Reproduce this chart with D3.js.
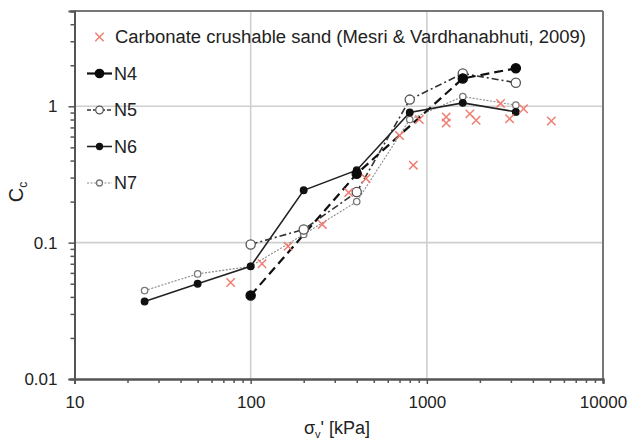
<!DOCTYPE html>
<html><head><meta charset="utf-8">
<script src="https://cdn.jsdelivr.net/npm/d3@7"></script>
<style>
html,body{margin:0;padding:0;background:#fff;}
text{font-family:"Liberation Sans",Arial,sans-serif;fill:#222;}
</style></head>
<body><svg id="c" width="631" height="439"></svg>
<script>
// ---- data ----
const xTicks = [10, 100, 1000, 10000];
const yTicks = [0.01, 0.1, 1];
const xTickLabels = ["10", "100", "1000", "10000"];
const yTickLabels = ["0.01", "0.1", "1"];

const n4X = [100, 400, 1600, 3200];
const n4Y = [0.041, 0.32, 1.6, 1.9];
const n5X = [100, 200, 400, 800, 1600, 3200];
const n5Y = [0.097, 0.125, 0.235, 1.12, 1.74, 1.49];
const n6X = [25, 50, 100, 200, 400, 800, 1600, 3200];
const n6Y = [0.037, 0.050, 0.067, 0.242, 0.34, 0.90, 1.06, 0.91];
const n7X = [25, 50, 100, 200, 400, 800, 1600, 3200];
const n7Y = [0.0445, 0.059, 0.067, 0.115, 0.20, 0.80, 1.18, 1.02];
const mesriX = [77, 116, 163, 255, 360, 452, 700, 838, 906, 1288, 1288, 1755, 1904, 2620, 2950, 3540, 5090];
const mesriY = [0.051, 0.070, 0.094, 0.136, 0.233, 0.295, 0.61, 0.37, 0.80, 0.835, 0.754, 0.88, 0.79, 1.05, 0.81, 0.96, 0.78];
const legendLabels = ["Carbonate crushable sand (Mesri & Vardhanabhuti, 2009)", "N4", "N5", "N6", "N7"];

// ---- layout ----
const L = 74.5, R = 603, T = 11, B = 379;
const svg = d3.select("#c");
const x = d3.scaleLog().domain([10, 10000]).range([L, R]);
const y = d3.scaleLog().domain([0.01, 5]).range([B, T]);

// grid
const g = svg.append("g");
g.selectAll(".gx").data([100, 1000]).enter().append("line")
  .attr("x1", d => x(d)).attr("x2", d => x(d)).attr("y1", T).attr("y2", B)
  .attr("stroke", "#cfcfcf").attr("stroke-width", 1.6);
g.selectAll(".gy").data([0.1, 1]).enter().append("line")
  .attr("y1", d => y(d)).attr("y2", d => y(d)).attr("x1", L).attr("x2", R)
  .attr("stroke", "#cfcfcf").attr("stroke-width", 1.6);

// frame top/right
svg.append("line").attr("x1", L).attr("x2", R).attr("y1", T).attr("y2", T).attr("stroke", "#777").attr("stroke-width", 2);
svg.append("line").attr("x1", R).attr("x2", R).attr("y1", T).attr("y2", B).attr("stroke", "#777").attr("stroke-width", 2);

// axes
const minorX = [];
[10, 100, 1000].forEach(d => { for (let k = 2; k <= 9; k++) minorX.push(d * k); });
const minorY = [];
[0.01, 0.1, 1].forEach(d => { for (let k = 2; k <= 9; k++) if (d * k <= 5) minorY.push(d * k); });

const xAxis = svg.append("g").attr("transform", `translate(0,${B})`)
  .call(d3.axisBottom(x).tickValues(xTicks).tickFormat((d, i) => xTickLabels[i]).tickSize(5).tickPadding(6));
const xMinor = svg.append("g").attr("transform", `translate(0,${B})`)
  .call(d3.axisBottom(x).tickValues(minorX).tickFormat("").tickSize(4));
const yAxis = svg.append("g").attr("transform", `translate(${L},0)`)
  .call(d3.axisLeft(y).tickValues(yTicks).tickFormat((d, i) => yTickLabels[i]).tickSize(6).tickPadding(11));
const yMinor = svg.append("g").attr("transform", `translate(${L},0)`)
  .call(d3.axisLeft(y).tickValues(minorY).tickFormat("").tickSize(4));
[xAxis, xMinor, yAxis, yMinor].forEach(a => {
  a.select(".domain").attr("stroke", "#555").attr("stroke-width", 2);
  a.selectAll(".tick line").attr("stroke", "#555").attr("stroke-width", 1.5);
  a.selectAll("text").style("font-size", "17px").attr("fill", "#222");
});
xAxis.selectAll("text").attr("dy", "1.05em");

// series
const line = d3.line().x(d => x(d[0])).y(d => y(d[1]));
const zip = (a, b) => a.map((v, i) => [v, b[i]]);

const series = [
  { key: "N7", data: zip(n7X, n7Y), stroke: "#8a8a8a", sw: 1.1, dash: "2,1.5", r: 3.2, fill: "#fff", mstroke: "#777" },
  { key: "N6", data: zip(n6X, n6Y), stroke: "#222", sw: 1.6, dash: null, r: 3.3, fill: "#111", mstroke: "#111" },
  { key: "N5", data: zip(n5X, n5Y), stroke: "#333", sw: 1.6, dash: "7,3,2,3", r: 4.6, fill: "#fff", mstroke: "#555" },
  { key: "N4", data: zip(n4X, n4Y), stroke: "#111", sw: 2.2, dash: "9,5", r: 4.6, fill: "#0a0a0a", mstroke: "#0a0a0a" }
];

const cross = svg.append("g");
function drawCross(sel, cx, cy) {
  const s = 4.2;
  sel.append("path").attr("d", `M${cx - s},${cy - s}L${cx + s},${cy + s}M${cx - s},${cy + s}L${cx + s},${cy - s}`)
    .attr("stroke", "#f07e72").attr("stroke-width", 1.5).attr("fill", "none");
}

series.forEach(s => {
  svg.append("path").attr("d", line(s.data)).attr("fill", "none")
    .attr("stroke", s.stroke).attr("stroke-width", s.sw).attr("stroke-dasharray", s.dash);
});
series.forEach(s => {
  svg.append("g").selectAll("circle").data(s.data).enter().append("circle")
    .attr("cx", d => x(d[0])).attr("cy", d => y(d[1])).attr("r", s.r)
    .attr("fill", s.fill).attr("stroke", s.mstroke).attr("stroke-width", 1.3);
});
mesriX.forEach((v, i) => drawCross(cross, x(v), y(mesriY[i])));
cross.raise();

// legend
const lg = svg.append("g");
drawCross(lg, 99.5, 37);
lg.append("text").attr("x", 115).attr("y", 37).attr("dy", "0.35em").style("font-size", "18px")
  .attr("textLength", 471).attr("lengthAdjust", "spacingAndGlyphs").text(legendLabels[0]);
const legOrder = ["N4", "N5", "N6", "N7"];
const legY = [73.5, 110, 146.5, 183];
legOrder.forEach((k, i) => {
  const s = series.find(t => t.key === k);
  const yy = legY[i];
  lg.append("line").attr("x1", 87).attr("x2", 112).attr("y1", yy).attr("y2", yy)
    .attr("stroke", s.stroke).attr("stroke-width", s.sw)
    .attr("stroke-dasharray", k === "N5" ? "4,2,2,2" : (k === "N7" ? s.dash : null));
  lg.append("circle").attr("cx", 99.5).attr("cy", yy).attr("r", k === "N4" ? 4.2 : (k === "N5" ? 3.8 : 3))
    .attr("fill", s.fill).attr("stroke", s.mstroke).attr("stroke-width", 1.3);
  lg.append("text").attr("x", 114).attr("y", yy).attr("dy", "0.35em").style("font-size", "18px").text(legendLabels[i + 1]);
});

// axis titles
const yl = svg.append("text").attr("transform", "translate(23,192) rotate(-90)").attr("text-anchor", "middle")
  .style("font-size", "20px");
yl.append("tspan").text("C");
yl.append("tspan").attr("dy", "4").style("font-size", "12px").text("c");

const xl = svg.append("text").attr("x", 337).attr("y", 434).attr("text-anchor", "middle").style("font-size", "18px");
xl.append("tspan").text("σ");
xl.append("tspan").attr("dy", "4").style("font-size", "11px").text("v");
xl.append("tspan").attr("dy", "-4").text("' [kPa]");
</script></body></html>
